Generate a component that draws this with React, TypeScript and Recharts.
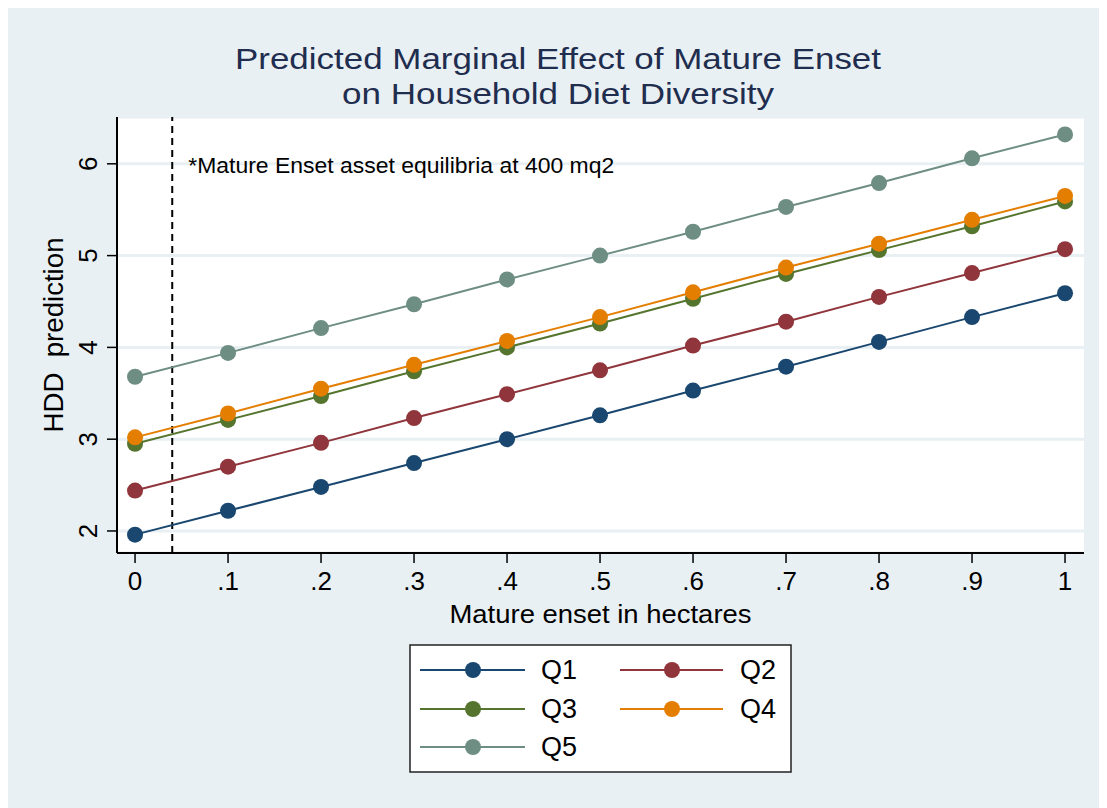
import React from "react";
import {
  LineChart,
  Line,
  XAxis,
  YAxis,
  CartesianGrid,
  ReferenceLine,
} from "recharts";

// mature enset (hectares)
const enset = [0, 0.1, 0.2, 0.3, 0.4, 0.5, 0.6, 0.7, 0.8, 0.9, 1];

// predicted HDD by quintile
const q1 = [1.96, 2.22, 2.48, 2.74, 3.0, 3.26, 3.53, 3.79, 4.06, 4.33, 4.59];
const q2 = [2.44, 2.7, 2.96, 3.23, 3.49, 3.75, 4.02, 4.28, 4.55, 4.81, 5.07];
const q3 = [2.95, 3.21, 3.47, 3.74, 4.0, 4.26, 4.53, 4.8, 5.06, 5.32, 5.59];
const q4 = [3.02, 3.28, 3.55, 3.81, 4.07, 4.33, 4.6, 4.87, 5.13, 5.39, 5.65];
const q5 = [3.68, 3.94, 4.21, 4.47, 4.74, 5.0, 5.26, 5.53, 5.79, 6.06, 6.32];

const seriesNames = ["Q1", "Q2", "Q3", "Q4", "Q5"];
const seriesColors = ["#1a476f", "#90353b", "#55752f", "#e37e00", "#6e8e84"];

const xTicks = [0, 0.1, 0.2, 0.3, 0.4, 0.5, 0.6, 0.7, 0.8, 0.9, 1];
const yTicks = [2, 3, 4, 5, 6];
const equilibrium = 0.04;

const data = enset.map((x, i) => ({
  x,
  Q1: q1[i],
  Q2: q2[i],
  Q3: q3[i],
  Q4: q4[i],
  Q5: q5[i],
}));

const BG = "#e9f0f3";
const FONT = '"Liberation Sans", Arial, Helvetica, sans-serif';

const fmtX = (v: number) => (v === 0 ? "0" : v === 1 ? "1" : String(v).replace(/^0/, ""));

const YTick = (props: any) => {
  const { x, y, payload } = props;
  return (
    <text
      x={x}
      y={y}
      transform={`rotate(-90, ${x}, ${y})`}
      textAnchor="middle"
      fontSize={26}
      fill="#000"
    >
      {payload.value}
    </text>
  );
};

function Legend() {
  const rows = [26, 65, 103];
  const cols = [
    { x1: 11, x2: 116, cx: 64, tx: 132 },
    { x1: 211, x2: 314, cx: 263, tx: 331 },
  ];
  return (
    <svg
      width={384}
      height={130}
      style={{ position: "absolute", left: 401, top: 636 }}
    >
      <rect x={1} y={1} width={381} height={127} fill="#fff" stroke="#222" strokeWidth={1.5} />
      {seriesNames.map((name, i) => {
        const c = cols[i % 2];
        const y = rows[Math.floor(i / 2)];
        return (
          <g key={name}>
            <line x1={c.x1} x2={c.x2} y1={y} y2={y} stroke={seriesColors[i]} strokeWidth={2} />
            <circle cx={c.cx} cy={y} r={8} fill={seriesColors[i]} />
            <text x={c.tx} y={y} dominantBaseline="central" fontSize={27} fill="#000">
              {name}
            </text>
          </g>
        );
      })}
    </svg>
  );
}

export default function App() {
  return (
    <div
      style={{
        position: "relative",
        width: 1099,
        height: 800,
        background: BG,
        fontFamily: FONT,
      }}
    >
      <svg width={1099} height={110} style={{ position: "absolute", left: 0, top: 0 }}>
        <text
          x={550}
          y={61}
          textAnchor="middle"
          fontSize={30}
          fill="#1f2d4f"
          textLength={646}
          lengthAdjust="spacingAndGlyphs"
        >
          Predicted Marginal Effect of Mature Enset
        </text>
        <text
          x={550}
          y={96}
          textAnchor="middle"
          fontSize={30}
          fill="#1f2d4f"
          textLength={432}
          lengthAdjust="spacingAndGlyphs"
        >
          on Household Diet Diversity
        </text>
      </svg>
      <div style={{ position: "absolute", left: 0, top: 0 }}>
        <LineChart
          width={1099}
          height={800}
          data={data}
          margin={{ top: 109, right: 23, bottom: 175, left: 49 }}
        >
          <CartesianGrid
            vertical={false}
            stroke={BG}
            strokeWidth={3}
            fill="#ffffff"
            fillOpacity={1}
          />
          <XAxis
            dataKey="x"
            type="number"
            domain={[-0.0194, 1.0204]}
            allowDataOverflow
            ticks={xTicks}
            tickFormatter={fmtX}
            tick={{ fill: "#000", fontSize: 26 }}
            tickSize={10}
            tickMargin={9}
            height={80}
            axisLine={{ stroke: "#000", strokeWidth: 2 }}
            tickLine={{ stroke: "#000", strokeWidth: 1.5 }}
            label={(p: any) => {
              const vb = p.viewBox;
              return (
                <text
                  x={vb.x + vb.width / 2}
                  y={vb.y + 70}
                  textAnchor="middle"
                  fontSize={26}
                  fill="#000"
                  textLength={302}
                  lengthAdjust="spacingAndGlyphs"
                >
                  Mature enset in hectares
                </text>
              );
            }}
          />
          <YAxis
            type="number"
            domain={[1.76, 6.51]}
            allowDataOverflow
            ticks={yTicks}
            tick={<YTick />}
            tickSize={10}
            tickMargin={10}
            width={60}
            axisLine={{ stroke: "#000", strokeWidth: 2 }}
            tickLine={{ stroke: "#000", strokeWidth: 1.5 }}
            label={(p: any) => {
              const vb = p.viewBox;
              const cx = vb.x + 6;
              const cy = vb.y + vb.height / 2;
              return (
                <text
                  x={cx}
                  y={cy}
                  transform={`rotate(-90, ${cx}, ${cy})`}
                  textAnchor="middle"
                  fontSize={27}
                  fill="#000"
                  textLength={195}
                  lengthAdjust="spacingAndGlyphs"
                  style={{ whiteSpace: "pre" }}
                >
                  {"HDD  prediction"}
                </text>
              );
            }}
          />
          <ReferenceLine
            x={equilibrium}
            stroke="#000"
            strokeWidth={2}
            strokeDasharray="7 5"
            label={(p: any) => {
              const vb = p.viewBox;
              return (
                <text
                  x={vb.x + 16}
                  y={vb.y + 56}
                  fontSize={22}
                  fill="#000"
                  textLength={426}
                  lengthAdjust="spacingAndGlyphs"
                >
                  *Mature Enset asset equilibria at 400 mq2
                </text>
              );
            }}
          />
          {seriesNames.map((name, i) => (
            <Line
              key={name}
              dataKey={name}
              stroke={seriesColors[i]}
              strokeWidth={2}
              dot={{ r: 8, fill: seriesColors[i], stroke: "none" }}
              activeDot={false}
              isAnimationActive={false}
            />
          ))}
        </LineChart>
      </div>
      <Legend />
    </div>
  );
}
